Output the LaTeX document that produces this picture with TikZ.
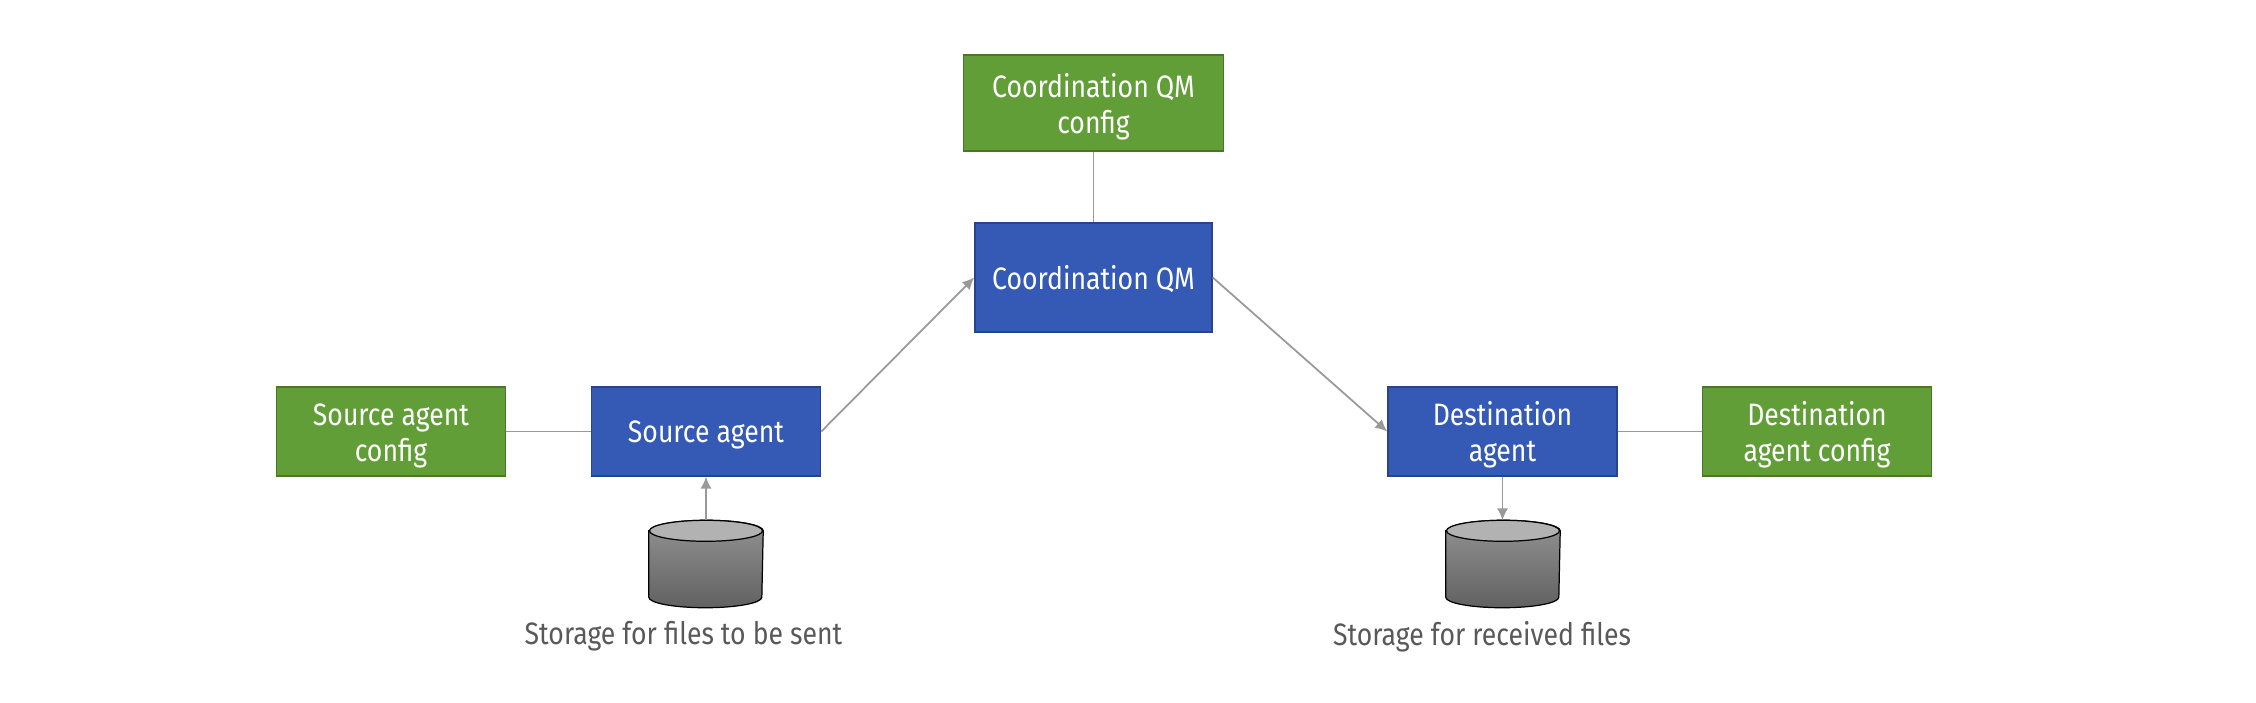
\documentclass[tikz,border=0pt]{standalone}
\usepackage{fontspec}
\setmainfont[FakeStretch=0.86]{Fira Sans}
\usetikzlibrary{arrows.meta}
\definecolor{boxblue}{HTML}{355AB5}
\definecolor{boxgreen}{HTML}{629E38}
\definecolor{linkgray}{HTML}{999999}
\definecolor{labelgray}{HTML}{595959}
\tikzset{
  agentbox/.style={draw=boxblue!75!black,fill=boxblue,text=white,align=center,inner sep=0pt,
    minimum width=2.29cm,minimum height=0.89cm},
  configbox/.style={draw=boxgreen!75!black,fill=boxgreen,text=white,align=center,inner sep=0pt,
    minimum width=2.29cm,minimum height=0.89cm},
  oneline/.style={execute at begin node={\rule{0pt}{8pt}}},
  twoline/.style={execute at begin node={\rule{0pt}{19pt}}},
  storage/.style={inner sep=0pt,minimum width=1.13cm,minimum height=0.86cm},
  link/.style={draw=linkgray,line width=0.5pt},
  flow/.style={link,-{Latex[length=3.4pt,width=3.2pt]}},
  caption/.style={text=labelgray,inner sep=0pt},
}
\begin{document}
\begin{tikzpicture}[x={(0.01cm,0)},y={(0,-0.01cm)},font=\fontsize{8.8pt}{10.2pt}\selectfont]
  \useasboundingbox (0,0) rectangle (2256,702);
  \node[configbox,twoline,minimum width=2.6cm,minimum height=0.96cm] (qmconfig) at (1093.5,103) {Coordination QM\\config};
  \node[agentbox,oneline,minimum width=2.37cm,minimum height=1.09cm] (qm) at (1093.5,277.5) {Coordination QM};
  \node[configbox,twoline] (srcconfig) at (391,431.5) {Source agent\\config};
  \node[agentbox,oneline] (src) at (706,431.5) {Source agent};
  \node[agentbox,twoline] (dst) at (1502.5,431.5) {Destination\\agent};
  \node[configbox,twoline] (dstconfig) at (1817,431.5) {Destination\\agent config};
  \node[storage] (srcdisk) at (706,564) {};
  \node[storage] (dstdisk) at (1503,564) {};
  \foreach \D in {srcdisk,dstdisk}
  {\draw[line width=0.35pt,top color=gray!85!white,bottom color=black!62]
      ([yshift=-0.105cm]\D.north west) -- ([yshift=0.105cm]\D.south west)
      arc[start angle=180,end angle=360,x radius=0.565cm,y radius=0.105cm]
      -- ([yshift=-0.105cm]\D.north east)
      arc[start angle=0,end angle=180,x radius=0.565cm,y radius=0.105cm] -- cycle;
   \draw[line width=0.35pt,fill=gray!60!white] ([yshift=-0.105cm]\D.north) ellipse (0.565cm and 0.105cm);}
  \node[caption] (srctext) at (683.5,636.5) {Storage for files to be sent};
  \node[caption] (dsttext) at (1482,636.5) {Storage for received files};
  \draw[link] (qmconfig) -- (qm);
  \draw[link] (srcconfig) -- (src);
  \draw[link] (dst) -- (dstconfig);
  \draw[flow] (src.east) -- (qm.west);
  \draw[flow] (qm.east) -- (dst.west);
  \draw[flow] (srcdisk.north) -- (src.south);
  \draw[flow] (dst.south) -- (dst.south |- dstdisk.north);
\end{tikzpicture}
\end{document}
